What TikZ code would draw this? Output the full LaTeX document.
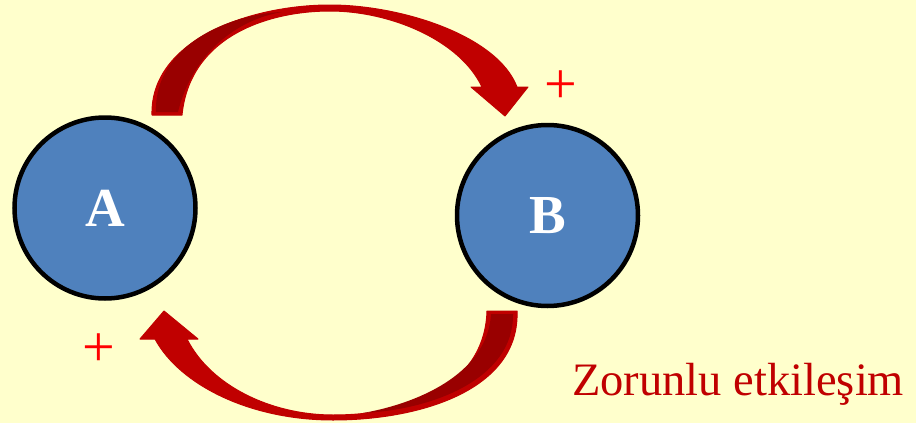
\documentclass[tikz,border=0pt]{standalone}
\usepackage{fontspec}
\setmainfont{Liberation Serif}
\definecolor{bgyellow}{HTML}{FFFFCC}
\definecolor{ballblue}{HTML}{4F81BD}
\definecolor{arrowred}{HTML}{C00000}
\definecolor{arrowdark}{HTML}{990000}
\definecolor{plusred}{HTML}{FF0000}
\tikzset{
  ball/.style={circle, draw=black, line width=4.5pt, fill=ballblue, minimum size=181pt, inner sep=0pt,
    text=white, font=\fontsize{55}{55}\selectfont\bfseries},
  bigarrow/.style={fill=arrowred, draw=arrowred, line width=1pt, line join=round},
  arrowshade/.style={fill=arrowdark},
  plussign/.style={text=plusred, font=\fontsize{58}{58}\selectfont, inner sep=0pt},
  caption/.style={text=arrowred, font=\fontsize{46.5}{46.5}\selectfont, inner sep=0pt, anchor=base west}
}
\begin{document}
\begin{tikzpicture}[x=1pt, y=-1pt]
\useasboundingbox (0,0) rectangle (916,423);
\fill[bgyellow] (0,0) rectangle (916,423);

% top arrow A -> B
\path[bigarrow] (152,115) .. controls (150,40) and (250,5) .. (330,5)
  .. controls (400,5) and (497,35) .. (517,87)
  -- (528,87) -- (505,116) -- (471,87) -- (482,87)
  .. controls (460,40) and (390,11) .. (330,11)
  .. controls (270,11) and (190,35) .. (182,115) -- cycle;
\fill[arrowshade] (156,112) .. controls (154,45) and (230,14) .. (282,12)
  .. controls (235,20) and (192,55) .. (178,112) -- cycle;

% bottom arrow B -> A
\path[bigarrow] (517,311) .. controls (520,390) and (420,420) .. (333,420)
  .. controls (250,420) and (180,385) .. (155,339)
  -- (140,339) -- (164,311) -- (198,339) -- (187,339)
  .. controls (210,385) and (270,415) .. (333,415)
  .. controls (420,415) and (485,380) .. (487,311) -- cycle;
\fill[arrowshade] (513,314) .. controls (514,380) and (430,410) .. (363,413)
  .. controls (425,402) and (488,370) .. (491,314) -- cycle;

\node[ball] (A) at (105,208) {A};
\node[ball] (B) at (547.5,215.5) {B};

\node[plussign] (plusB) at (561,87.5) {+};
\node[plussign] (plusA) at (99,350) {+};

\node[caption] (cap) at (572,395) {Zorunlu etkileşim};
\end{tikzpicture}
\end{document}
